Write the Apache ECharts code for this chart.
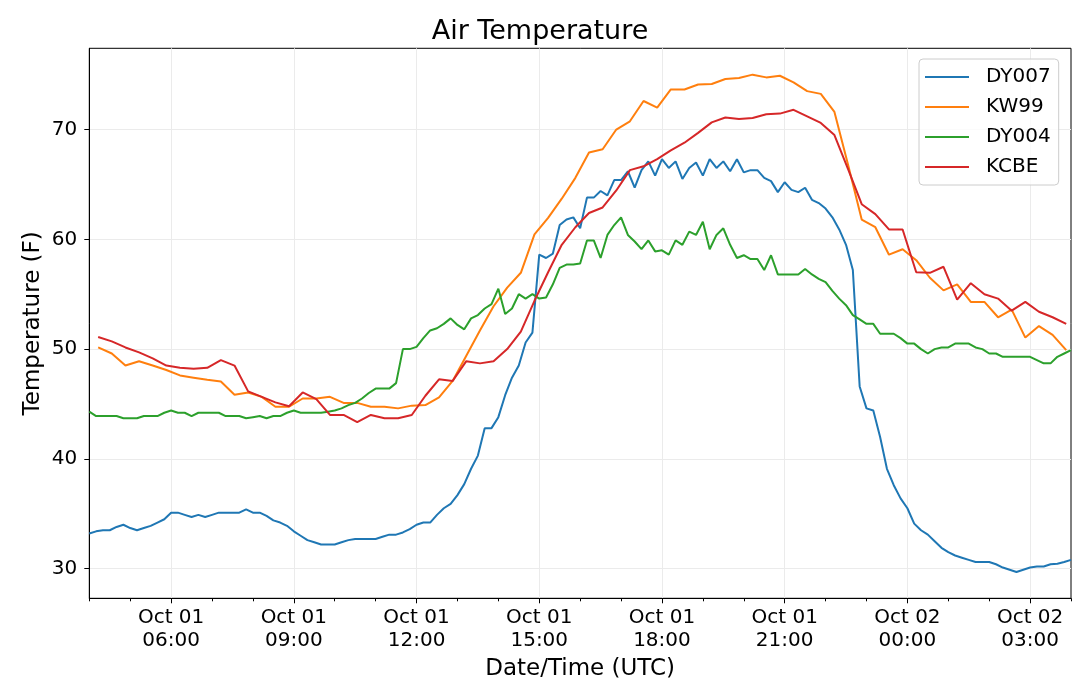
<!DOCTYPE html>
<html>
<head>
<meta charset="utf-8">
<title>Air Temperature</title>
<script src="https://cdn.jsdelivr.net/npm/echarts@6.0.0/dist/echarts.min.js"></script>
<style>
  html, body { margin: 0; padding: 0; background: #fff; }
  #chart { width: 1080px; height: 687px; }
</style>
</head>
<body>
<div id="chart"></div>
<script>
// hours counted from Oct 01 00:00 UTC
var xTickHours = [6, 9, 12, 15, 18, 21, 24, 27];
var xTickLabels = ['Oct 01\n06:00', 'Oct 01\n09:00', 'Oct 01\n12:00', 'Oct 01\n15:00',
                   'Oct 01\n18:00', 'Oct 01\n21:00', 'Oct 02\n00:00', 'Oct 02\n03:00'];
var yTicks = [30, 40, 50, 60, 70];

var seriesNames = ['DY007', 'KW99', 'DY004', 'KCBE'];

// DY007 and DY004: every 10 minutes from 04:00
var dy007 = [
    33.2, 33.4, 33.5, 33.5, 33.8, 34.0, 33.7, 33.5, 33.7, 33.9, 34.2, 34.5,
    35.1, 35.1, 34.9, 34.7, 34.9, 34.7, 34.9, 35.1, 35.1, 35.1, 35.1, 35.4,
    35.1, 35.1, 34.8, 34.4, 34.2, 33.9, 33.4, 33.0, 32.6, 32.4, 32.2, 32.2,
    32.2, 32.4, 32.6, 32.7, 32.7, 32.7, 32.7, 32.9, 33.1, 33.1, 33.3, 33.6,
    34.0, 34.2, 34.2, 34.9, 35.5, 35.9, 36.7, 37.7, 39.1, 40.3, 42.8, 42.8,
    43.8, 45.8, 47.4, 48.5, 50.6, 51.5, 58.6, 58.3, 58.7, 61.3, 61.8, 62.0,
    61.0, 63.8, 63.8, 64.4, 64.0, 65.4, 65.4, 66.2, 64.7, 66.3, 67.1, 65.8,
    67.3, 66.5, 67.1, 65.5, 66.5, 67.0, 65.8, 67.3, 66.5, 67.1, 66.2, 67.3,
    66.1, 66.3, 66.3, 65.6, 65.3, 64.3, 65.2, 64.5, 64.3, 64.7, 63.6, 63.3,
    62.8, 62.0, 60.9, 59.5, 57.2, 46.6, 44.6, 44.4, 42.0, 39.1, 37.6, 36.4,
    35.5, 34.1, 33.5, 33.1, 32.5, 31.9, 31.5, 31.2, 31.0, 30.8, 30.6, 30.6,
    30.6, 30.4, 30.1, 29.9, 29.7, 29.9, 30.1, 30.2, 30.2, 30.4, 30.45, 30.6,
    30.8
];
var dy004 = [
    44.3, 43.9, 43.9, 43.9, 43.9, 43.7, 43.7, 43.7, 43.9, 43.9, 43.9, 44.2,
    44.4, 44.2, 44.2, 43.9, 44.2, 44.2, 44.2, 44.2, 43.9, 43.9, 43.9, 43.7,
    43.8, 43.9, 43.7, 43.9, 43.9, 44.2, 44.4, 44.2, 44.2, 44.2, 44.2, 44.3,
    44.4, 44.6, 44.9, 45.1, 45.5, 46.0, 46.4, 46.4, 46.4, 46.9, 50.0, 50.0,
    50.2, 51.0, 51.7, 51.9, 52.3, 52.8, 52.2, 51.8, 52.8, 53.1, 53.7, 54.1,
    55.5, 53.2, 53.7, 55.0, 54.6, 55.0, 54.6, 54.7, 55.9, 57.4, 57.7, 57.7,
    57.8, 59.9, 59.9, 58.3, 60.4, 61.3, 62.0, 60.4, 59.8, 59.1, 59.9, 58.9,
    59.0, 58.6, 59.9, 59.5, 60.7, 60.4, 61.6, 59.1, 60.4, 61.0, 59.5, 58.3,
    58.55, 58.2, 58.2, 57.2, 58.55, 56.8, 56.8, 56.8, 56.8, 57.3, 56.8, 56.4,
    56.1, 55.3, 54.6, 54.0, 53.1, 52.7, 52.3, 52.3, 51.4, 51.4, 51.4, 51.0,
    50.5, 50.5, 50.0, 49.6, 50.0, 50.15, 50.15, 50.5, 50.5, 50.5, 50.15, 50.0,
    49.6, 49.6, 49.3, 49.3, 49.3, 49.3, 49.3, 49.0, 48.7, 48.7, 49.3, 49.6,
    49.9
];

// KW99 and KCBE: every 20 minutes from 04:13
var kw99 = [
    50.15, 49.6, 48.5, 48.9, 48.5, 48.1, 47.6, 47.4, 47.2, 47.05, 45.85, 46.05,
    45.65, 44.75, 44.75, 45.5, 45.5, 45.65, 45.1, 45.1, 44.75, 44.75, 44.6, 44.85,
    44.9, 45.6, 47.1, 49.4, 51.7, 53.9, 55.6, 56.95, 60.45, 61.95, 63.7, 65.6,
    67.9, 68.2, 70.0, 70.75, 72.6, 72.0, 73.65, 73.65, 74.1, 74.15, 74.6, 74.7,
    75.0, 74.75, 74.9, 74.3, 73.5, 73.25, 71.6, 66.8, 61.8, 61.1, 58.6, 59.1,
    58.1, 56.5, 55.35, 55.9, 54.3, 54.3, 52.9, 53.6, 51.05, 52.1, 51.3, 49.9
];
var kcbe = [
    51.1, 50.7, 50.15, 49.7, 49.15, 48.5, 48.3, 48.2, 48.3, 49.0, 48.5, 46.15,
    45.65, 45.15, 44.8, 46.05, 45.45, 44.0, 44.0, 43.35, 44.0, 43.7, 43.7, 44.0,
    45.75, 47.25, 47.1, 48.9, 48.7, 48.9, 50.0, 51.6, 54.4, 57.0, 59.5, 61.1,
    62.4, 62.9, 64.45, 66.3, 66.65, 67.3, 68.1, 68.8, 69.7, 70.65, 71.1, 70.95,
    71.05, 71.4, 71.45, 71.8, 71.2, 70.6, 69.5, 66.4, 63.2, 62.3, 60.9, 60.9,
    57.0, 56.95, 57.5, 54.5, 56.0, 55.0, 54.6, 53.5, 54.3, 53.4, 52.9, 52.3
];

var tenMinTimes = dy007.map(function (_, i) { return 4 + i / 6; });
var twentyMinTimes = kw99.map(function (_, i) { return 4 + 13 / 60 + i / 3; });

function pairs(times, values) {
    return values.map(function (v, i) { return [times[i], v]; });
}

var chart = echarts.init(document.getElementById('chart'), null, { renderer: 'canvas' });

var lineSeries = function (name, color, times, values) {
    return {
        name: name,
        type: 'line',
        xAxisIndex: 0,
        data: pairs(times, values),
        symbol: 'none',
        lineStyle: { color: color, width: 2 },
        itemStyle: { color: color },
        emphasis: { disabled: true }
    };
};

var option = {
    animation: false,
    textStyle: { fontFamily: 'DejaVu Sans', color: '#000' },
    title: {
        text: 'Air Temperature',
        left: 'center',
        top: 13,
        padding: [5, 0, 5, 80],
        textStyle: { fontSize: 27, fontWeight: 'normal', color: '#000', fontFamily: 'DejaVu Sans' }
    },
    legend: {
        data: seriesNames,
        orient: 'vertical',
        left: 919,
        top: 59,
        icon: 'rect',
        itemWidth: 44,
        itemHeight: 2,
        itemGap: 10,
        padding: [8, 8, 8, 6],
        backgroundColor: 'rgba(255,255,255,0.8)',
        borderColor: '#cccccc',
        borderWidth: 1,
        borderRadius: 4,
        selectedMode: false,
        textStyle: { fontSize: 20, color: '#000', padding: [0, 0, 0, 12], fontFamily: 'DejaVu Sans' }
    },
    grid: {
        left: 89.3,
        right: 9,
        top: 48.3,
        bottom: 88.7,
        show: true,
        borderColor: '#000',
        borderWidth: 1,
        backgroundColor: 'transparent'
    },
    xAxis: [{
        type: 'value',
        min: 4,
        max: 28,
        position: 'bottom',
        name: 'Date/Time (UTC)',
        nameLocation: 'middle',
        nameGap: 56,
        nameTextStyle: { fontSize: 23, color: '#000' },
        axisLine: { show: true, lineStyle: { color: '#000', width: 1 } },
        axisTick: { show: true, customValues: xTickHours, length: 5, lineStyle: { color: '#000' } },
        axisLabel: {
            customValues: xTickHours,
            fontSize: 20,
            lineHeight: 23,
            margin: 8,
            color: '#000',
            formatter: function (v) {
                var k = xTickHours.indexOf(Math.round(v));
                return k >= 0 ? xTickLabels[k] : '';
            }
        },
        splitLine: { show: true, lineStyle: { color: '#ebebeb', width: 1 } }
    }, {
        // minor hourly ticks
        type: 'value',
        min: 4,
        max: 28,
        interval: 1,
        position: 'bottom',
        axisLine: { show: false },
        axisTick: { show: true, length: 3, lineStyle: { color: '#000' } },
        axisLabel: { show: false },
        splitLine: { show: false }
    }],
    yAxis: {
        type: 'value',
        min: 27.3,
        max: 77.4,
        name: 'Temperature (F)',
        nameLocation: 'middle',
        nameRotate: 90,
        nameGap: 45,
        nameMoveOverlap: false,
        nameTextStyle: { fontSize: 23, color: '#000' },
        axisLine: { show: true, lineStyle: { color: '#000', width: 1 } },
        axisTick: { show: true, customValues: yTicks, length: 5, lineStyle: { color: '#000' } },
        axisLabel: { customValues: yTicks, fontSize: 20, margin: 12, color: '#000' },
        splitLine: { show: true, lineStyle: { color: '#ebebeb', width: 1 } }
    },
    series: [
        lineSeries('DY007', '#1f77b4', tenMinTimes, dy007),
        lineSeries('KW99', '#ff7f0e', twentyMinTimes, kw99),
        lineSeries('DY004', '#2ca02c', tenMinTimes, dy004),
        lineSeries('KCBE', '#d62728', twentyMinTimes, kcbe)
    ]
};

chart.setOption(option);
</script>
</body>
</html>
